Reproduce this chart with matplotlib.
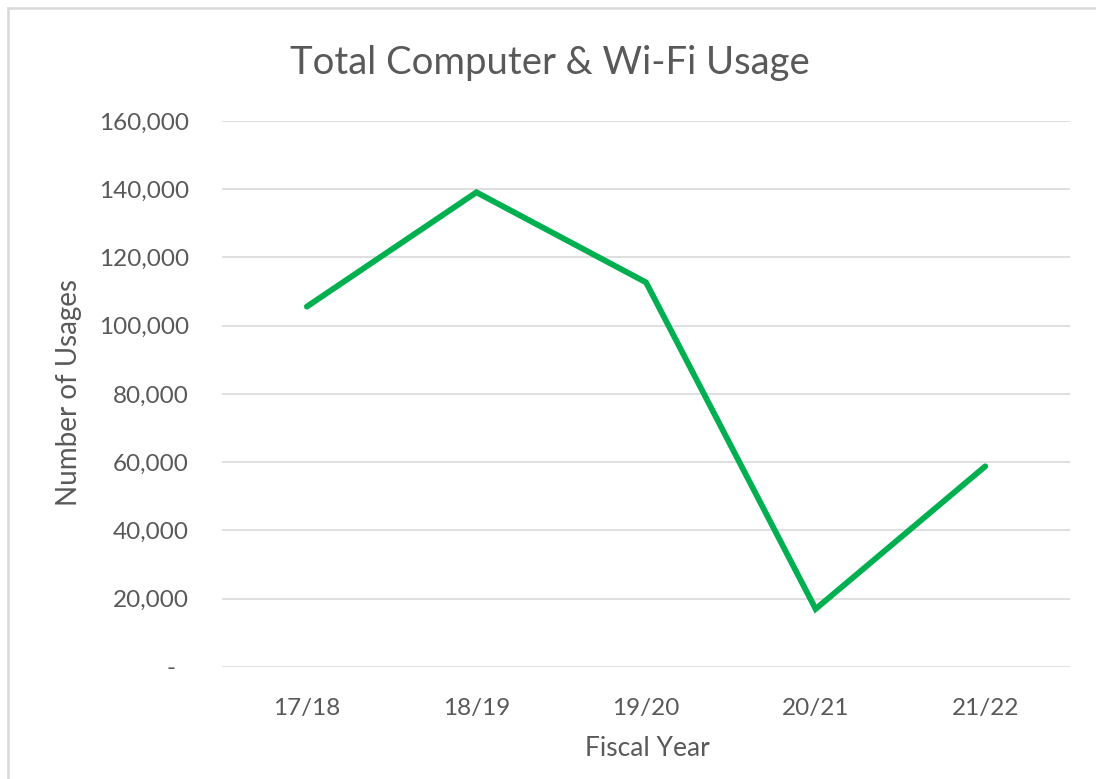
import matplotlib
matplotlib.use('Agg')
import matplotlib.pyplot as plt
from matplotlib.lines import Line2D
from matplotlib.ticker import FuncFormatter

years = ['17/18', '18/19', '19/20', '20/21', '21/22']
usages = [105600, 139100, 112700, 17000, 58800]
yticks = [0, 20000, 40000, 60000, 80000, 100000, 120000, 140000, 160000]

grey = '#595959'
plt.rcParams['font.family'] = ['Lato', 'DejaVu Sans']


def fmt(v, pos):
	''' Excel accounting style: dash for zero'''
	if v == 0:
		return '-  '
	return '{:,.0f}'.format(v)


fig = plt.figure(figsize=(10.96, 7.79), dpi=100)
ax = fig.add_axes([0.2026, 0.1438, 0.7737, 0.7009])

x = list(range(len(years)))
ax.plot(x, usages, color='#00B050', linewidth=4.2, solid_joinstyle='miter',
	solid_capstyle='round', zorder=3)

ax.set_xlim(-0.5, len(years) - 0.5)
ax.set_ylim(0, 160000)
ax.set_yticks(yticks)
ax.yaxis.set_major_formatter(FuncFormatter(fmt))
ax.set_xticks(x)
ax.set_xticklabels(years)

ax.grid(axis='y', color='#D9D9D9', linewidth=1.2)
ax.set_axisbelow(True)
for s in ax.spines.values():
	s.set_visible(False)
ax.tick_params(axis='both', length=0, labelsize=17.5, labelcolor=grey)
ax.tick_params(axis='y', pad=24)
ax.tick_params(axis='x', pad=22)

# title, axis titles placed like the Excel chart
fig.text(550 / 1096, 1 - 63 / 779, 'Total Computer & Wi-Fi Usage', fontsize=27.5,
	color=grey, ha='center', va='center')
fig.text(647 / 1096, 1 - 748 / 779, 'Fiscal Year', fontsize=19, color=grey,
	ha='center', va='center')
fig.text(69 / 1096, 1 - 392 / 779, 'Number of Usages', fontsize=20, color=grey,
	ha='center', va='center', rotation=90)

# chart frame, only top and left edges are in view
fig.add_artist(Line2D([8 / 1096, 8 / 1096], [0, 1 - 8 / 779], color='#D9D9D9', linewidth=1.8))
fig.add_artist(Line2D([8 / 1096, 1], [1 - 8 / 779, 1 - 8 / 779], color='#D9D9D9', linewidth=1.8))

fig.savefig('out.png', dpi=100)
